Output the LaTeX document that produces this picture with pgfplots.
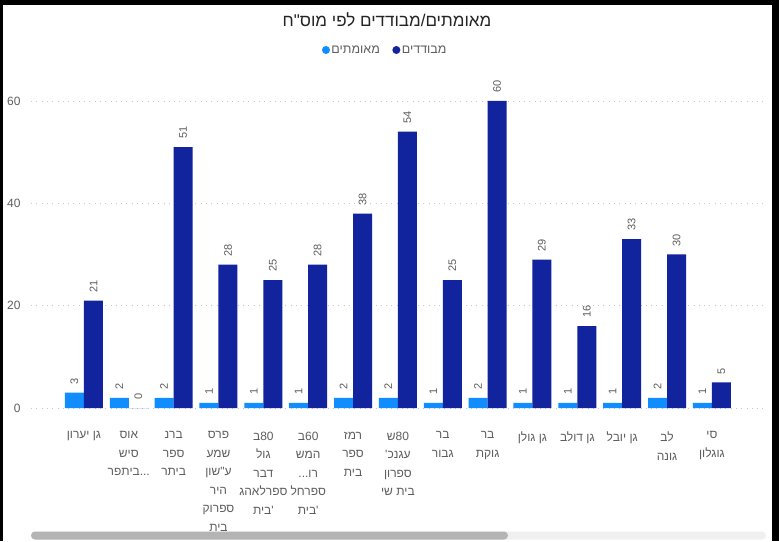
\documentclass[border=0pt]{standalone}
\usepackage{pgfplots}
\pgfplotsset{compat=1.18}
\usepackage{fontspec}
\setmainfont{Liberation Sans}
\newfontfamily\heb[Script=Hebrew]{Liberation Sans}
\TeXXeTstate=1
\definecolor{lightb}{HTML}{118DFF}
\definecolor{darkb}{HTML}{12239E}
\definecolor{lbl}{HTML}{605E5C}
\definecolor{ttl}{HTML}{252423}
\definecolor{gridc}{HTML}{C8C6C4}
\definecolor{track}{HTML}{F0F0F0}
\definecolor{thumb}{HTML}{B4B4B4}
\begin{document}
\begin{tikzpicture}
\path[use as bounding box] (0pt,0pt) rectangle (779pt,541pt);
\fill[black] (0pt,0pt) rectangle (779pt,541pt);
\fill[white] (3pt,0pt) rectangle (772pt,536pt);
\fill[track, rounded corners=4pt] (31pt,1.5pt) rectangle (766pt,9.5pt);
\fill[thumb, rounded corners=4pt] (31pt,1.5pt) rectangle (508pt,9.5pt);
\node[text=ttl, font=\heb\fontsize{17}{20}\selectfont] at (387pt,521pt) {\beginR מאומתים/מבודדים לפי מוס"ח\endR};
\begin{axis}[
 at={(31pt,133pt)}, anchor=south west,
 scale only axis, width=732pt, height=332.6pt,
 xmin=-1.18, xmax=15.14, ymin=0, ymax=65,
 ybar=0pt, bar width=19pt,
 axis line style={draw=none},
 tick style={draw=none},
 ytick={0,20,40,60},
 ymajorgrids, grid style={gridc, line width=0.8pt, dash pattern=on 0.8pt off 4.5pt},
 yticklabel style={font=\fontsize{12}{14}\selectfont, text=lbl, xshift=-7pt},
 xtick={0,...,14},
 xticklabels={
  {\beginR גן יערון\endR},
  {\beginR אוס\endR\\\beginR סיש\endR\\\beginR{...ביתפר}\endR},
  {\beginR ברנ\endR\\\beginR ספר\endR\\\beginR ביתר\endR},
  {\beginR פרס\endR\\\beginR שמע\endR\\\beginR ע"שון\endR\\\beginR היר\endR\\\beginR ספרוק\endR\\\beginR בית\endR},
  {\beginR 80ב\endR\\\beginR גול\endR\\\beginR דבר\endR\\\beginR ספרלאהג\endR\\\beginR 'בית\endR},
  {\beginR 60ב\endR\\\beginR המש\endR\\\beginR{רו...}\endR\\\beginR ספרחל\endR\\\beginR 'בית\endR},
  {\beginR רמז\endR\\\beginR ספר\endR\\\beginR בית\endR},
  {\beginR 80ש\endR\\\beginR עגנכ'\endR\\\beginR ספרון\endR\\\beginR בית שי\endR},
  {\beginR בר\endR\\\beginR גבור\endR},
  {\beginR בר\endR\\\beginR גוקת\endR},
  {\beginR גן גולן\endR},
  {\beginR גן דולב\endR},
  {\beginR גן יובל\endR},
  {\beginR לב\endR\\\beginR גונה\endR},
  {\beginR סי\endR\\\beginR גוגלון\endR}
 },
 xticklabel style={font=\heb\fontsize{12}{18.5}\selectfont, text=lbl, align=center, anchor=north, yshift=-16pt},
 /pgf/number format/assume math mode=true,
 nodes near coords,
 every node near coord/.append style={rotate=90, anchor=west, font=\fontsize{11}{13}\selectfont, text=lbl, inner xsep=8pt},
 legend style={at={(0.4836,1.0764)}, anchor=center, draw=none, fill=none, legend columns=2,
   font=\heb\fontsize{12.5}{14}\selectfont, text=lbl, inner sep=0pt, nodes={inner sep=1.5pt},
   /tikz/every even column/.append style={column sep=11pt}},
 clip=false,
]
\addplot[fill=lightb, draw=none, legend image code/.code={\fill[lightb] (0pt,0pt) circle (4pt);}]
 coordinates {(0,3) (1,2) (2,2) (3,1) (4,1) (5,1) (6,2) (7,2) (8,1) (9,2) (10,1) (11,1) (12,1) (13,2) (14,1)};
\addlegendentry{\beginR מאומתים\endR}
\addplot[fill=darkb, draw=none, legend image code/.code={\fill[darkb] (0pt,0pt) circle (4pt);}]
 coordinates {(0,21) (1,0) (2,51) (3,28) (4,25) (5,28) (6,38) (7,54) (8,25) (9,60) (10,29) (11,16) (12,33) (13,30) (14,5)};
\addlegendentry{\beginR מבודדים\endR}
\end{axis}
\end{tikzpicture}
\end{document}
